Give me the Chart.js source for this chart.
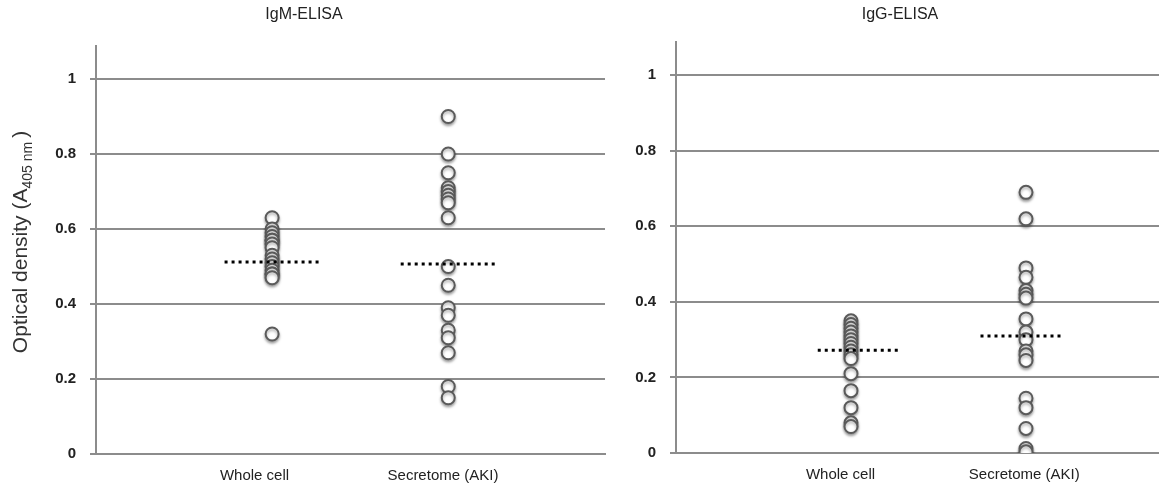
<!DOCTYPE html>
<html>
<head>
<meta charset="utf-8">
<script src="https://cdn.jsdelivr.net/npm/chart.js@4.4.1/dist/chart.umd.min.js"></script>
<style>
  html, body { margin: 0; padding: 0; background: #fff; }
  #wrap { position: relative; width: 1159px; height: 491px; overflow: hidden; }
  .pane { position: absolute; top: 0; height: 491px; }
</style>
</head>
<body>
<div id="wrap">
  <div class="pane" id="p1" style="left:0;width:610px;"><canvas id="c1" width="610" height="491"></canvas></div>
  <div class="pane" id="p2" style="left:590px;width:569px;"><canvas id="c2" width="569" height="491"></canvas></div>
</div>
<script>
// ---- data ----
const panelTitles = ["IgM-ELISA", "IgG-ELISA"];
const categories = ["Whole cell", "Secretome (AKI)"];
const yTickValues = [0, 0.2, 0.4, 0.6, 0.8, 1];
const yTickLabels = ["0", "0.2", "0.4", "0.6", "0.8", "1"];

const igmWholeCell = [0.63, 0.60, 0.59, 0.58, 0.57, 0.57, 0.56, 0.55, 0.53, 0.52, 0.51, 0.50, 0.49, 0.48, 0.48, 0.47, 0.32];
const igmSecretome = [0.90, 0.80, 0.75, 0.71, 0.70, 0.69, 0.68, 0.67, 0.63, 0.50, 0.45, 0.39, 0.37, 0.33, 0.31, 0.27, 0.18, 0.15];
const igmMeans = [0.512, 0.507];

const iggWholeCell = [0.35, 0.34, 0.33, 0.32, 0.31, 0.30, 0.29, 0.28, 0.27, 0.26, 0.25, 0.21, 0.165, 0.12, 0.08, 0.07];
const iggSecretome = [0.69, 0.62, 0.49, 0.465, 0.43, 0.42, 0.41, 0.355, 0.32, 0.30, 0.27, 0.26, 0.245, 0.145, 0.12, 0.065, 0.012, 0.003];
const iggMeans = [0.272, 0.31];

// ---- helpers ----
const FONT = "'Liberation Sans', Arial, sans-serif";

const shadowPlugin = {
  id: 'shadow',
  beforeDatasetDraw(chart, args) {
    if (chart.data.datasets[args.index].type === 'scatter') {
      const ctx = chart.ctx;
      ctx.save();
      ctx.shadowColor = 'rgba(0,0,0,0.35)';
      ctx.shadowBlur = 3;
      ctx.shadowOffsetY = 2;
    }
  },
  afterDatasetDraw(chart, args) {
    if (chart.data.datasets[args.index].type === 'scatter') chart.ctx.restore();
  }
};

function makeTextPlugin(title, titleX, withYTitle) {
  return {
    id: 'texts',
    afterDraw(chart) {
      const ctx = chart.ctx;
      ctx.save();
      ctx.fillStyle = '#222';
      ctx.font = '16px ' + FONT;
      ctx.textAlign = 'center';
      ctx.textBaseline = 'middle';
      ctx.fillText(title, titleX, 15);
      if (withYTitle) {
        ctx.translate(21, 242);
        ctx.rotate(-Math.PI / 2);
        ctx.textBaseline = 'middle';
        ctx.textAlign = 'left';
        const a = 'Optical density (A';
        const sub = '405 nm';
        const c = ')';
        ctx.font = '21px ' + FONT;
        const wa = ctx.measureText(a).width;
        const wc = ctx.measureText(c).width;
        ctx.font = '14px ' + FONT;
        const ws = ctx.measureText(sub).width;
        const total = wa + ws + wc + 4;
        let x = -total / 2;
        ctx.font = '21px ' + FONT;
        ctx.fillStyle = '#333';
        ctx.fillText(a, x, 0);
        x += wa;
        ctx.font = '14px ' + FONT;
        ctx.fillText(sub, x, 7);
        x += ws + 4;
        ctx.font = '21px ' + FONT;
        ctx.fillText(c, x, 0);
      }
      ctx.restore();
    }
  };
}

function scatterSet(vals, xpos) {
  return {
    type: 'scatter',
    data: vals.map(v => ({ x: xpos, y: v })),
    pointRadius: 6.5,
    pointHoverRadius: 6.5,
    borderWidth: 2,
    pointBorderWidth: 2,
    pointBorderColor: '#5a5a5a',
    pointBackgroundColor: '#ffffff',
    borderColor: '#5a5a5a',
    backgroundColor: '#ffffff',
    order: 2
  };
}

function meanSet(m, x0, x1) {
  return {
    type: 'line',
    data: [{ x: x0, y: m }, { x: x1, y: m }],
    borderColor: '#000',
    borderWidth: 3,
    borderDash: [3, 4],
    pointRadius: 0,
    fill: false,
    order: 1
  };
}

function makeChart(canvasId, cfg) {
  return new Chart(document.getElementById(canvasId), {
    data: {
      datasets: [
        scatterSet(cfg.whole, 1),
        scatterSet(cfg.secr, 2),
        meanSet(cfg.means[0], cfg.meanSpans[0][0], cfg.meanSpans[0][1]),
        meanSet(cfg.means[1], cfg.meanSpans[1][0], cfg.meanSpans[1][1])
      ]
    },
    options: {
      responsive: false,
      animation: false,
      events: [],
      layout: { autoPadding: false, padding: { top: cfg.top, right: cfg.right, left: 0, bottom: 0 } },
      plugins: { legend: { display: false }, tooltip: { enabled: false }, title: { display: false } },
      scales: {
        x: {
          type: 'linear',
          min: 0,
          max: cfg.xmax,
          afterBuildTicks(scale) { scale.ticks = cfg.labelPos.map(v => ({ value: v })); },
          afterFit(scale) {
            scale.height = 491 - cfg.bottom;
            scale.paddingLeft = 0; scale.paddingRight = 0;
          },
          grid: { display: false, drawTicks: false },
          border: { display: true, color: '#8c8c8c', width: 2 },
          ticks: {
            padding: 13,
            color: '#222',
            font: { family: FONT, size: 15 },
            maxRotation: 0,
            autoSkip: false,
            callback: (v, i) => categories[i]
          }
        },
        y: {
          type: 'linear',
          min: 0,
          max: 1.088,
          afterBuildTicks(scale) { scale.ticks = yTickValues.map(v => ({ value: v })); },
          afterFit(scale) {
            scale.width = cfg.axisX;
            scale.paddingTop = 0; scale.paddingBottom = 0;
          },
          grid: { color: '#8c8c8c', lineWidth: 2, drawTicks: true, tickLength: 6, tickColor: '#8c8c8c' },
          border: { display: true, color: '#8c8c8c', width: 2 },
          ticks: {
            padding: 14,
            color: '#222',
            font: { family: FONT, size: 15, weight: 'bold' },
            autoSkip: false,
            callback: (v, i) => yTickLabels[i]
          }
        }
      }
    },
    plugins: [shadowPlugin, makeTextPlugin(cfg.title, cfg.titleX, cfg.yTitle)]
  });
}

makeChart('c1', {
  whole: igmWholeCell, secr: igmSecretome, means: igmMeans,
  meanSpans: [[0.73, 1.27], [1.73, 2.28]],
  title: panelTitles[0], titleX: 304, yTitle: true,
  axisX: 96, right: 5, top: 46, bottom: 454, xmax: 2.89,
  labelPos: [0.9, 1.97]
});

makeChart('c2', {
  whole: iggWholeCell, secr: iggSecretome, means: iggMeans,
  meanSpans: [[0.81, 1.28], [1.74, 2.21]],
  title: panelTitles[1], titleX: 310, yTitle: false,
  axisX: 86, right: 0, top: 42, bottom: 453, xmax: 2.76,
  labelPos: [0.94, 1.99]
});
</script>
</body>
</html>
